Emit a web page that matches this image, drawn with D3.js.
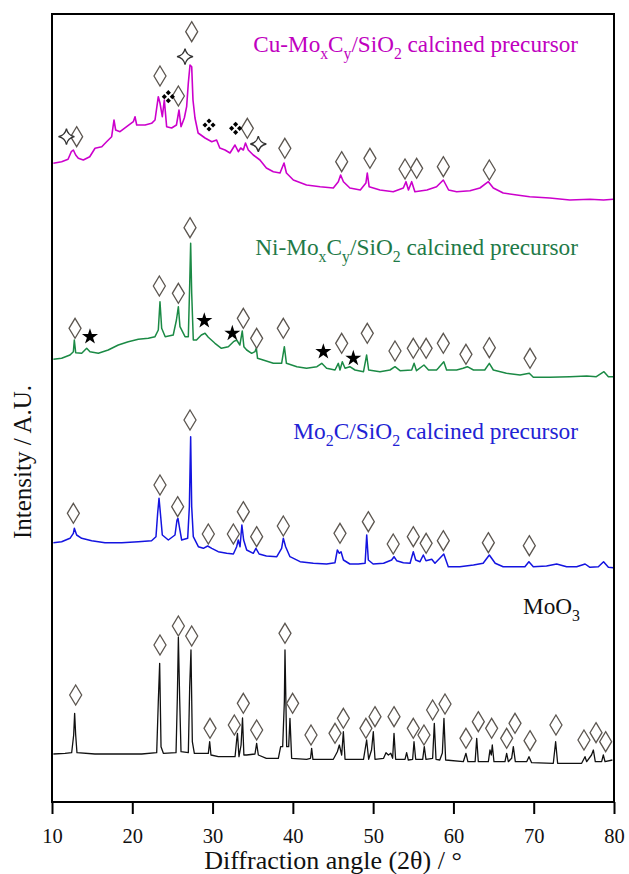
<!DOCTYPE html>
<html><head><meta charset="utf-8">
<script src="https://cdn.jsdelivr.net/npm/d3@7"></script>
<style>html,body{margin:0;padding:0;background:#fff}svg{display:block}</style>
</head><body>
<svg id="chart" width="629" height="874"></svg>
<script>
// ---------- DATA (angle in °2θ, intensity in A.U. incl. stacking offset) ----------
const angleTicks = [10,20,30,40,50,60,70,80];

const cuAngle = [10.17,11.2,12.0,12.4,12.66,12.95,13.28,13.9,14.7,15.36,16.2,16.8,17.43,17.72,17.93,18.47,19.3,20.13,20.34,20.55,21.6,22.4,22.83,23.24,23.45,23.74,23.99,24.28,24.9,25.5,25.82,26.07,26.48,26.77,26.98,27.19,27.4,27.56,27.81,28.2,29.06,29.9,30.5,30.9,31.55,32.17,32.79,33.21,33.5,33.83,34.1,34.45,35.07,35.9,36.7,37.57,38.4,38.9,39.2,40.06,41.7,43.4,45.04,45.66,45.95,46.3,47.1,48.4,49.1,49.27,49.5,50.85,52.5,53.76,54.09,54.4,54.8,55.2,56.7,57.9,58.74,59.4,60.4,62.06,63.3,64.35,64.97,66.2,67.9,69.5,72.0,74.5,77.0,78.7,79.9];
const cuInt = [633.7,635.3,637.7,645.3,647,642,638.7,637,640.3,648.7,650.3,655.3,660.3,677,667,665.3,670.3,675.3,680.3,672,672,673.7,677,700.3,694,680.3,697,670.3,669,672,687,670.3,679,690.3,714,732,730.3,697,679,664,659,655.3,657,649,647,644,652,645.3,649,647,654,647,642,637,629,625.3,624,634,624,617,612,610.3,609,615.3,622,615.3,609,607,614,624,610.3,607,605.3,609,615.3,607,615.3,605.3,607,610.3,617,607,605.3,606.3,609,615.3,609,604,602,600.3,599,597,597.7,597,597.7];

const niAngle = [10.17,11.2,12.24,12.66,12.78,12.95,13.7,14.32,14.73,15.77,17.0,18.26,19.5,20.75,22.0,22.83,23.24,23.45,23.66,24.1,25.1,25.5,25.74,25.94,26.57,26.98,27.15,27.27,27.4,27.6,28.0,28.6,29.06,29.47,30.3,31.1,31.96,32.6,33.0,33.4,33.7,33.9,34.25,34.87,35.28,35.45,35.6,36.3,37.57,38.6,38.94,39.2,40.5,41.7,43.0,43.6,44.2,45.25,45.66,45.87,46.16,46.5,47.1,47.74,48.8,49.19,49.44,50.85,52.1,52.72,53.35,54.8,55.1,55.4,56.33,56.9,57.9,58.1,58.8,59.15,60.4,61.2,61.73,62.5,63.9,64.47,64.97,66.6,68.3,69.45,69.95,72.0,74.5,76.6,77.8,78.75,79.3,79.9];
const niInt = [437.7,438.7,442,445.3,457,444.3,443.7,448.7,445.3,443.7,447,452,455.3,457.7,458.7,460.3,467,495.3,468.7,460.3,462,477,490.3,470.3,460.3,460.3,512,553.7,503.7,457,457,462,463.7,459.7,453.7,448.7,450.3,455.3,457,452,466,450.3,447,443.7,445.3,449,438.7,437,433.7,433.7,450.3,433.7,430.3,428.7,430.3,433.7,428.7,427,433.7,427,435.3,428.7,430.3,427,425.3,442,427,425.3,427,430.3,426.3,427,433.7,426.3,432,427,427,428.7,435.3,427,427,428.7,430.3,427,427,433.7,427,423.7,422,423.7,419.7,419.7,420.3,421,420.3,425.3,420.3,420.3];

const mo2cAngle = [10.17,11.2,12.24,12.66,12.78,13.07,13.7,14.94,16.6,18.68,20.75,22.4,22.95,23.16,23.33,23.54,23.74,24.49,25.32,25.57,25.69,25.86,26.15,26.9,27.11,27.27,27.4,27.6,28.23,28.85,29.39,29.9,30.7,31.76,32.59,33.0,33.2,33.42,33.65,33.87,34.25,35.07,35.4,35.8,36.7,38.0,38.6,38.81,39.1,39.64,40.9,42.55,44.2,45.25,45.54,45.79,46.0,46.3,47.1,48.15,49.0,49.2,49.4,50.0,51.3,52.3,52.6,52.93,53.76,54.6,55.0,55.3,55.84,56.25,56.58,57.3,57.7,58.3,58.8,59.36,60.8,62.5,63.7,64.47,65.2,66.2,67.9,68.9,69.4,69.95,71.6,72.86,74.1,75.35,76.4,77.0,78.05,78.7,79.3,79.9];
const mo2cInt = [254.3,255.3,258.7,263.7,268.7,262,258.7,256.3,254.3,254.3,255.3,256.3,260.3,283.7,298.7,280.3,262,257,262,277,278.7,270.3,257,258.7,290.3,360.3,290.3,260.3,250.3,248.7,251,248.7,245.3,243.7,243,250.3,257,250.3,272,257,247,243.7,248.7,243,241,240.3,248.7,258.7,250.3,240.3,235.3,233.7,233,234.3,247,243.7,245.3,237,233,233,233.7,262,237,233,233.7,237,240.3,236.3,234.3,233.7,245.3,237,235.3,242,236.3,237.7,233.7,238.7,243,230.3,230.3,232,233.7,242,233.7,230.3,230.3,230.3,235.3,230.3,231,233,230.3,230.3,233,229.7,230.3,235.3,229.7,229.3];

const moo3Angle = [10.17,11.62,12.45,12.7,12.82,12.95,13.11,15.35,17.85,21.17,23.04,23.24,23.41,23.58,23.87,25.45,25.61,25.74,25.9,26.07,26.98,27.15,27.31,27.48,27.73,29.47,29.64,29.8,30.72,32.8,33.0,33.1,33.29,33.55,33.73,33.9,34.25,35.28,35.49,35.7,36.7,38.19,38.48,38.73,38.94,39.02,39.23,39.48,39.64,39.85,41.72,42.2,42.34,42.5,45.04,45.54,45.79,46.08,46.29,46.5,48.8,49.19,49.44,49.8,50.02,50.23,51.3,51.6,51.9,52.2,52.43,52.6,52.8,53.97,54.17,54.38,54.92,55.09,55.3,56.17,56.37,56.58,57.41,57.62,57.83,58.3,58.62,58.82,59.03,61.23,61.56,61.8,62.7,62.9,63.1,64.35,64.55,64.72,64.84,65.05,66.42,66.63,66.84,67.25,67.46,67.71,69.12,69.41,69.74,72.44,72.73,72.98,75.97,76.39,76.6,77.2,77.43,77.67,78.46,78.67,78.88,79.8];
const moo3Int = [43,43.7,44.3,62,83.7,62,44.3,43,43,43,44.3,95.3,133.7,50.3,43.7,44.3,98.7,159.7,98.7,45.3,44.3,110.3,147,55.3,43.7,43.7,55.3,42,40.3,40.3,57,63.7,40.3,52,79,42,42,43,53.7,42,38.7,38.7,50.3,50.3,95.3,147,50.3,50.3,78.7,38.7,37.7,38.7,48.7,37.7,37.7,45.3,52,42,65.3,37.7,37.7,57,37.7,47,65.3,37.7,38.7,44.3,42,43.7,38.7,63.7,37.7,37.7,44.3,37,37.7,55.3,37.7,37.7,50.3,37.7,38.7,73.7,37.7,37,44,78.7,37,35.3,43.7,35.3,35.3,58.7,35.3,35.3,47,42,52,35.3,35.3,43.7,35.3,38.7,50.3,35.3,35.3,40.3,34.3,33.7,55.3,33.7,33.7,40.3,35.3,42,47,35.3,35.3,42,35.3,37];

// phase markers [angle, intensity]
const cuDiamonds = [[13.07,660.3],[23.45,721],[25.74,701],[27.4,765.3],[34.33,668.7],[39.0,648.7],[46.08,635.3],[49.6,638.7],[53.97,628],[55.42,628.7],[58.74,630.3],[64.47,627]];
const cuSparkles = [[11.8,660.3],[26.57,740.3],[35.7,653]];
const cuClusters = [[24.49,700.3],[29.56,672],[32.87,668.7]];
const niDiamonds = [[12.87,468.7],[23.37,511],[25.74,503.7],[27.19,569.3],[33.83,478.7],[35.49,458.7],[38.81,468.7],[46.08,453.7],[49.27,463.7],[52.72,446],[55.0,448.7],[56.6,448.7],[58.74,453.7],[61.56,442.7],[64.47,449.3],[69.54,438.7]];
const niStars = [[14.73,460.3],[28.97,476.3],[32.46,463.7],[43.8,445.3],[47.53,438.7]];
const mo2cDiamonds = [[12.66,283.7],[23.45,312],[25.65,290.3],[27.19,377],[29.47,263],[32.59,263],[33.83,285.3],[35.49,260.3],[38.81,271],[45.87,263.7],[49.4,275.3],[52.5,253],[55.0,260.3],[56.6,253.7],[58.74,256.3],[64.35,254.3],[69.45,251.3]];
const moo3Diamonds = [[12.95,102],[23.45,152],[25.74,171],[27.4,161],[29.68,68.7],[32.71,72],[33.83,93.7],[35.49,67],[39.02,163.7],[39.97,93.7],[42.26,62],[45.25,63.7],[46.29,78.7],[49.1,68.7],[50.23,80.3],[52.6,80.3],[55.0,68.7],[56.33,62],[57.41,87],[58.95,93],[61.56,58.7],[63.1,75.3],[64.76,68.7],[66.63,58.7],[67.67,73.7],[69.54,56.3],[72.77,72],[76.26,57],[77.76,64.3],[78.96,55.3]];

const seriesNames = ["Cu-MoxCy/SiO2 calcined precursor","Ni-MoxCy/SiO2 calcined precursor","Mo2C/SiO2 calcined precursor","MoO3"];
const xTitle = "Diffraction angle (2θ) / °";
const yTitle = "Intensity / A.U.";

// ---------- LAYOUT ----------
const W = 629, H = 874;
const m = {left:52, right:15, top:14, bottom:72};
const iw = W - m.left - m.right, ih = H - m.top - m.bottom;
const FONT = "'Liberation Serif','Times New Roman',serif";

const svg = d3.select("#chart");
const g = svg.append("g").attr("transform",`translate(${m.left},${m.top})`);
const x = d3.scaleLinear().domain([10,80]).range([0,iw]);
const y = d3.scaleLinear().domain([-5,783]).range([ih,0]);

const series = [
  {a:cuAngle, v:cuInt, color:"#cc00cc", w:1.6},
  {a:niAngle, v:niInt, color:"#1b8a45", w:1.5},
  {a:mo2cAngle, v:mo2cInt, color:"#1414e0", w:1.5},
  {a:moo3Angle, v:moo3Int, color:"#111111", w:1.3}
];
const line = d3.line().x(d=>x(d[0])).y(d=>y(d[1]));
series.forEach(s=>{
  g.append("path").datum(s.a.map((a,i)=>[a,s.v[i]]))
   .attr("d",line).attr("fill","none").attr("stroke",s.color)
   .attr("stroke-width",s.w).attr("stroke-linejoin","round");
});

// markers
const diamondPath = "M0,-10L6,0L0,10L-6,0Z";
const sparklePath = "M0,-8Q1.3,-1.3 8,0Q1.3,1.3 0,8Q-1.3,1.3 -8,0Q-1.3,-1.3 0,-8Z";
function diamonds(data){
  g.append("g").selectAll("path").data(data).join("path")
   .attr("transform",d=>`translate(${x(d[0])},${y(d[1])})`)
   .attr("d",diamondPath).attr("fill","#fff").attr("stroke","#5c5650").attr("stroke-width",1.3);
}
[cuDiamonds,niDiamonds,mo2cDiamonds,moo3Diamonds].forEach(diamonds);
g.append("g").selectAll("path").data(cuSparkles).join("path")
  .attr("transform",d=>`translate(${x(d[0])},${y(d[1])})`)
  .attr("d",sparklePath).attr("fill","#fff").attr("stroke","#333").attr("stroke-width",1.3);
const cl = g.append("g").selectAll("g").data(cuClusters).join("g")
  .attr("transform",d=>`translate(${x(d[0])},${y(d[1])})`);
[[0,-4],[4,0],[0,4],[-4,0]].forEach(o=>{
  cl.append("path").attr("d",`M${o[0]},${o[1]-2.6}L${o[0]+2.6},${o[1]}L${o[0]},${o[1]+2.6}L${o[0]-2.6},${o[1]}Z`).attr("fill","#000");
});
g.append("g").selectAll("path").data(niStars).join("path")
  .attr("transform",d=>`translate(${x(d[0])},${y(d[1])})`)
  .attr("d",d3.symbol(d3.symbolStar).size(80)).attr("fill","#000");

// frame
g.append("rect").attr("x",0).attr("y",0).attr("width",iw).attr("height",ih)
 .attr("fill","none").attr("stroke","#000").attr("stroke-width",2);

// x axis
const xa = g.append("g").attr("transform",`translate(0,${ih})`)
  .call(d3.axisBottom(x).tickValues(angleTicks).tickSize(12).tickPadding(14).tickFormat(d3.format("d")));
xa.select(".domain").remove();
xa.selectAll("line").attr("stroke","#000").attr("stroke-width",2);
xa.selectAll("text").attr("font-family",FONT).attr("font-size",20.5).attr("fill","#111");

svg.append("text").attr("x",m.left+iw/2).attr("y",869).attr("text-anchor","middle")
  .attr("font-family",FONT).attr("font-size",26).attr("fill","#111").text(xTitle);
svg.append("text").attr("transform","translate(31,462) rotate(-90)").attr("text-anchor","middle")
  .attr("font-family",FONT).attr("font-size",25).attr("fill","#111").text(yTitle);

// series labels with subscripts
function label(name,color,xEnd,base,target){
  const parts = name.match(/Mo2C|MoxCy|SiO2|MoO3|[^]/g);
  const t = svg.append("text").attr("x",xEnd).attr("y",base).attr("text-anchor","end")
    .attr("font-family",FONT).attr("font-size",23).attr("fill",color);
  const segs = [];
  parts.forEach(p=>{
    if(p==="MoxCy"){segs.push(["Mo",0],["x",1],["C",0],["y",1]);}
    else if(p==="SiO2"){segs.push(["SiO",0],["2",1]);}
    else if(p==="Mo2C"){segs.push(["Mo",0],["2",1],["C",0]);}
    else if(p==="MoO3"){segs.push(["MoO",0],["3",1]);}
    else segs.push([p,0]);
  });
  let prevSub=false;
  segs.forEach(s=>{
    const ts=t.append("tspan").text(s[0]);
    if(s[1]){ts.attr("font-size","0.68em").attr("dy",prevSub?0:"0.45em");prevSub=true;}
    else {if(prevSub) ts.attr("dy","-0.306em"); prevSub=false;}
  });
  const w=t.node().getComputedTextLength();
  if(w>0) t.attr("font-size",23*target/w);
}
label(seriesNames[0],"#c000c0",578,52,325);
label(seriesNames[1],"#1f7a48",578,255,323);
label(seriesNames[2],"#2222d4",578,439,285);
label(seriesNames[3],"#111",580,614,57);
</script>
</body></html>
